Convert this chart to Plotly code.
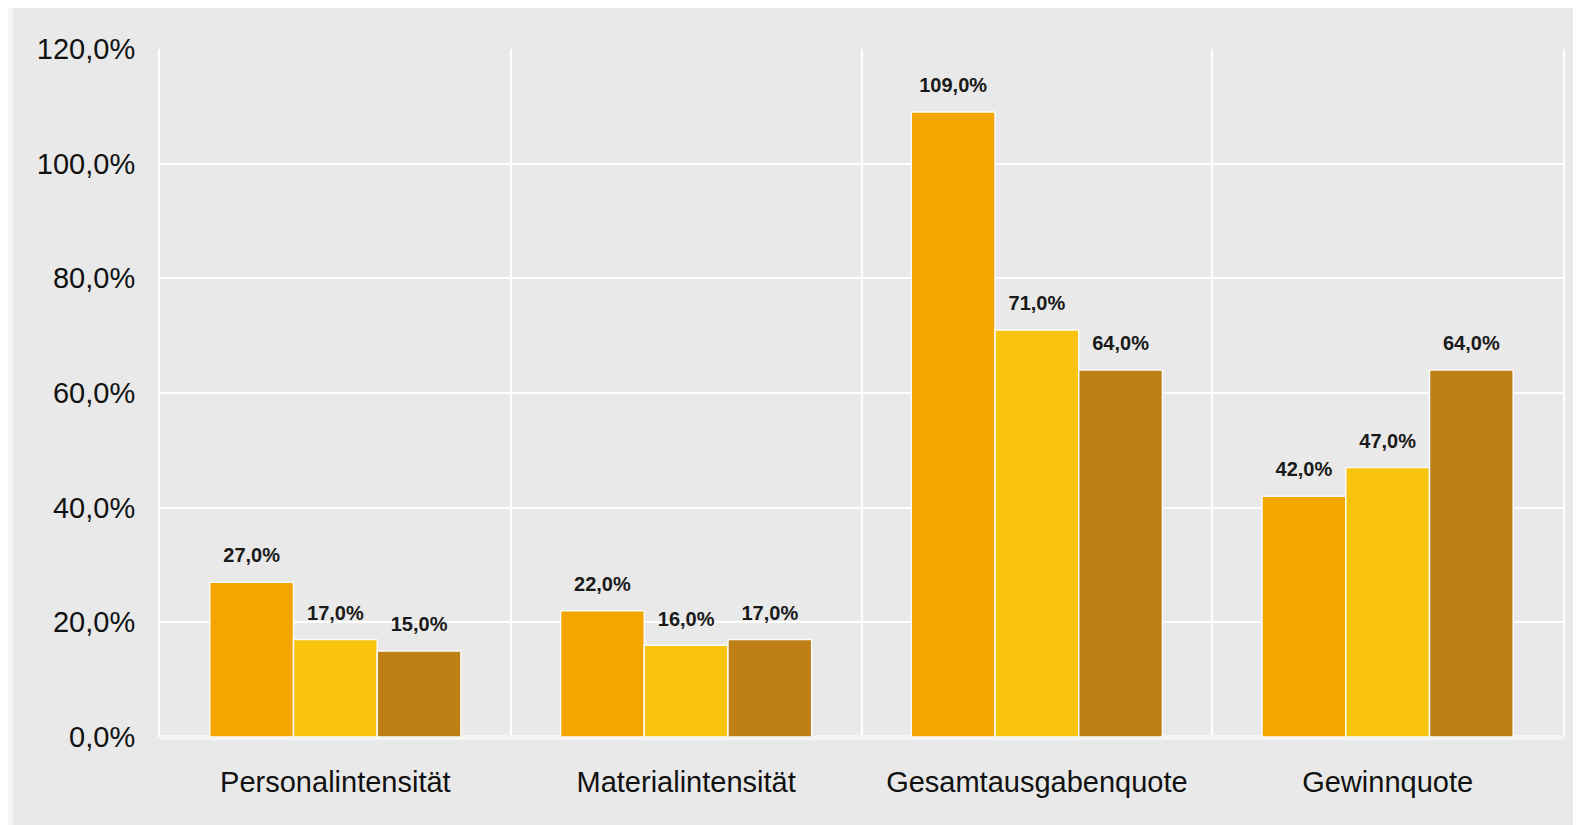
import plotly.graph_objects as go

categories = ["Personalintensität", "Materialintensität", "Gesamtausgabenquote", "Gewinnquote"]
series_a = [27.0, 22.0, 109.0, 42.0]
series_b = [17.0, 16.0, 71.0, 47.0]
series_c = [15.0, 17.0, 64.0, 64.0]
series_names = ["Serie 1", "Serie 2", "Serie 3"]
colors = ["#F3A500", "#F9C40E", "#BE8016"]
y_ticks = [0, 20, 40, 60, 80, 100, 120]

FONT = "Liberation Sans, Arial, sans-serif"

fig = go.Figure()
for name, vals, col in zip(series_names, [series_a, series_b, series_c], colors):
    fig.add_trace(go.Bar(
        x=categories, y=vals, name=name, offsetgroup=name,
        marker=dict(color=col, line=dict(color="#FAFAFA", width=1.5)),
        hoverinfo="skip",
    ))
for name, vals in zip(series_names, [series_a, series_b, series_c]):
    fig.add_trace(go.Scatter(
        x=categories, y=vals, name=name + " label", offsetgroup=name,
        mode="markers+text",
        marker=dict(size=22, opacity=0),
        text=[f"{v:.1f}".replace(".", ",") + "%" for v in vals],
        textposition="top center",
        textfont=dict(family=FONT, size=20, color="#1a1a1a", weight="bold"),
        hoverinfo="skip", cliponaxis=False,
    ))

fig.update_layout(
    width=1573, height=817,
    margin=dict(l=152, r=18, t=41, b=88),
    paper_bgcolor="#F4F4F4",
    plot_bgcolor="rgba(0,0,0,0)",
    barmode="group", bargap=0.284, bargroupgap=0,
    scattermode="group", scattergap=0.284,
    showlegend=False,
    separators=",.",
    font=dict(family=FONT, color="#111111"),
    shapes=[dict(type="rect", xref="paper", yref="paper",
                 x0=-0.105, x1=1.03, y0=-0.15, y1=1.07,
                 fillcolor="#E8E9E8", line=dict(width=0), layer="below")],
)
fig.update_xaxes(
    type="category", tickson="boundaries", showgrid=True,
    gridcolor="#FFFFFF", gridwidth=2, ticks="", showline=False,
    tickfont=dict(size=29, color="#111111", family=FONT),
    ticklabelstandoff=25,
)
fig.update_yaxes(
    range=[0, 120], tickvals=y_ticks, ticktext=[f"{v:.1f}".replace(".", ",") + "%" for v in y_ticks],
    showgrid=True, gridcolor="#FFFFFF", gridwidth=1.5,
    showline=True, linecolor="#FFFFFF", linewidth=2, mirror=True,
    zeroline=True, zerolinecolor="#F5F5F4", zerolinewidth=5,
    ticks="", tickfont=dict(size=29, color="#111111", family=FONT),
    ticklabelstandoff=17,
)

fig.write_html("out.html")
